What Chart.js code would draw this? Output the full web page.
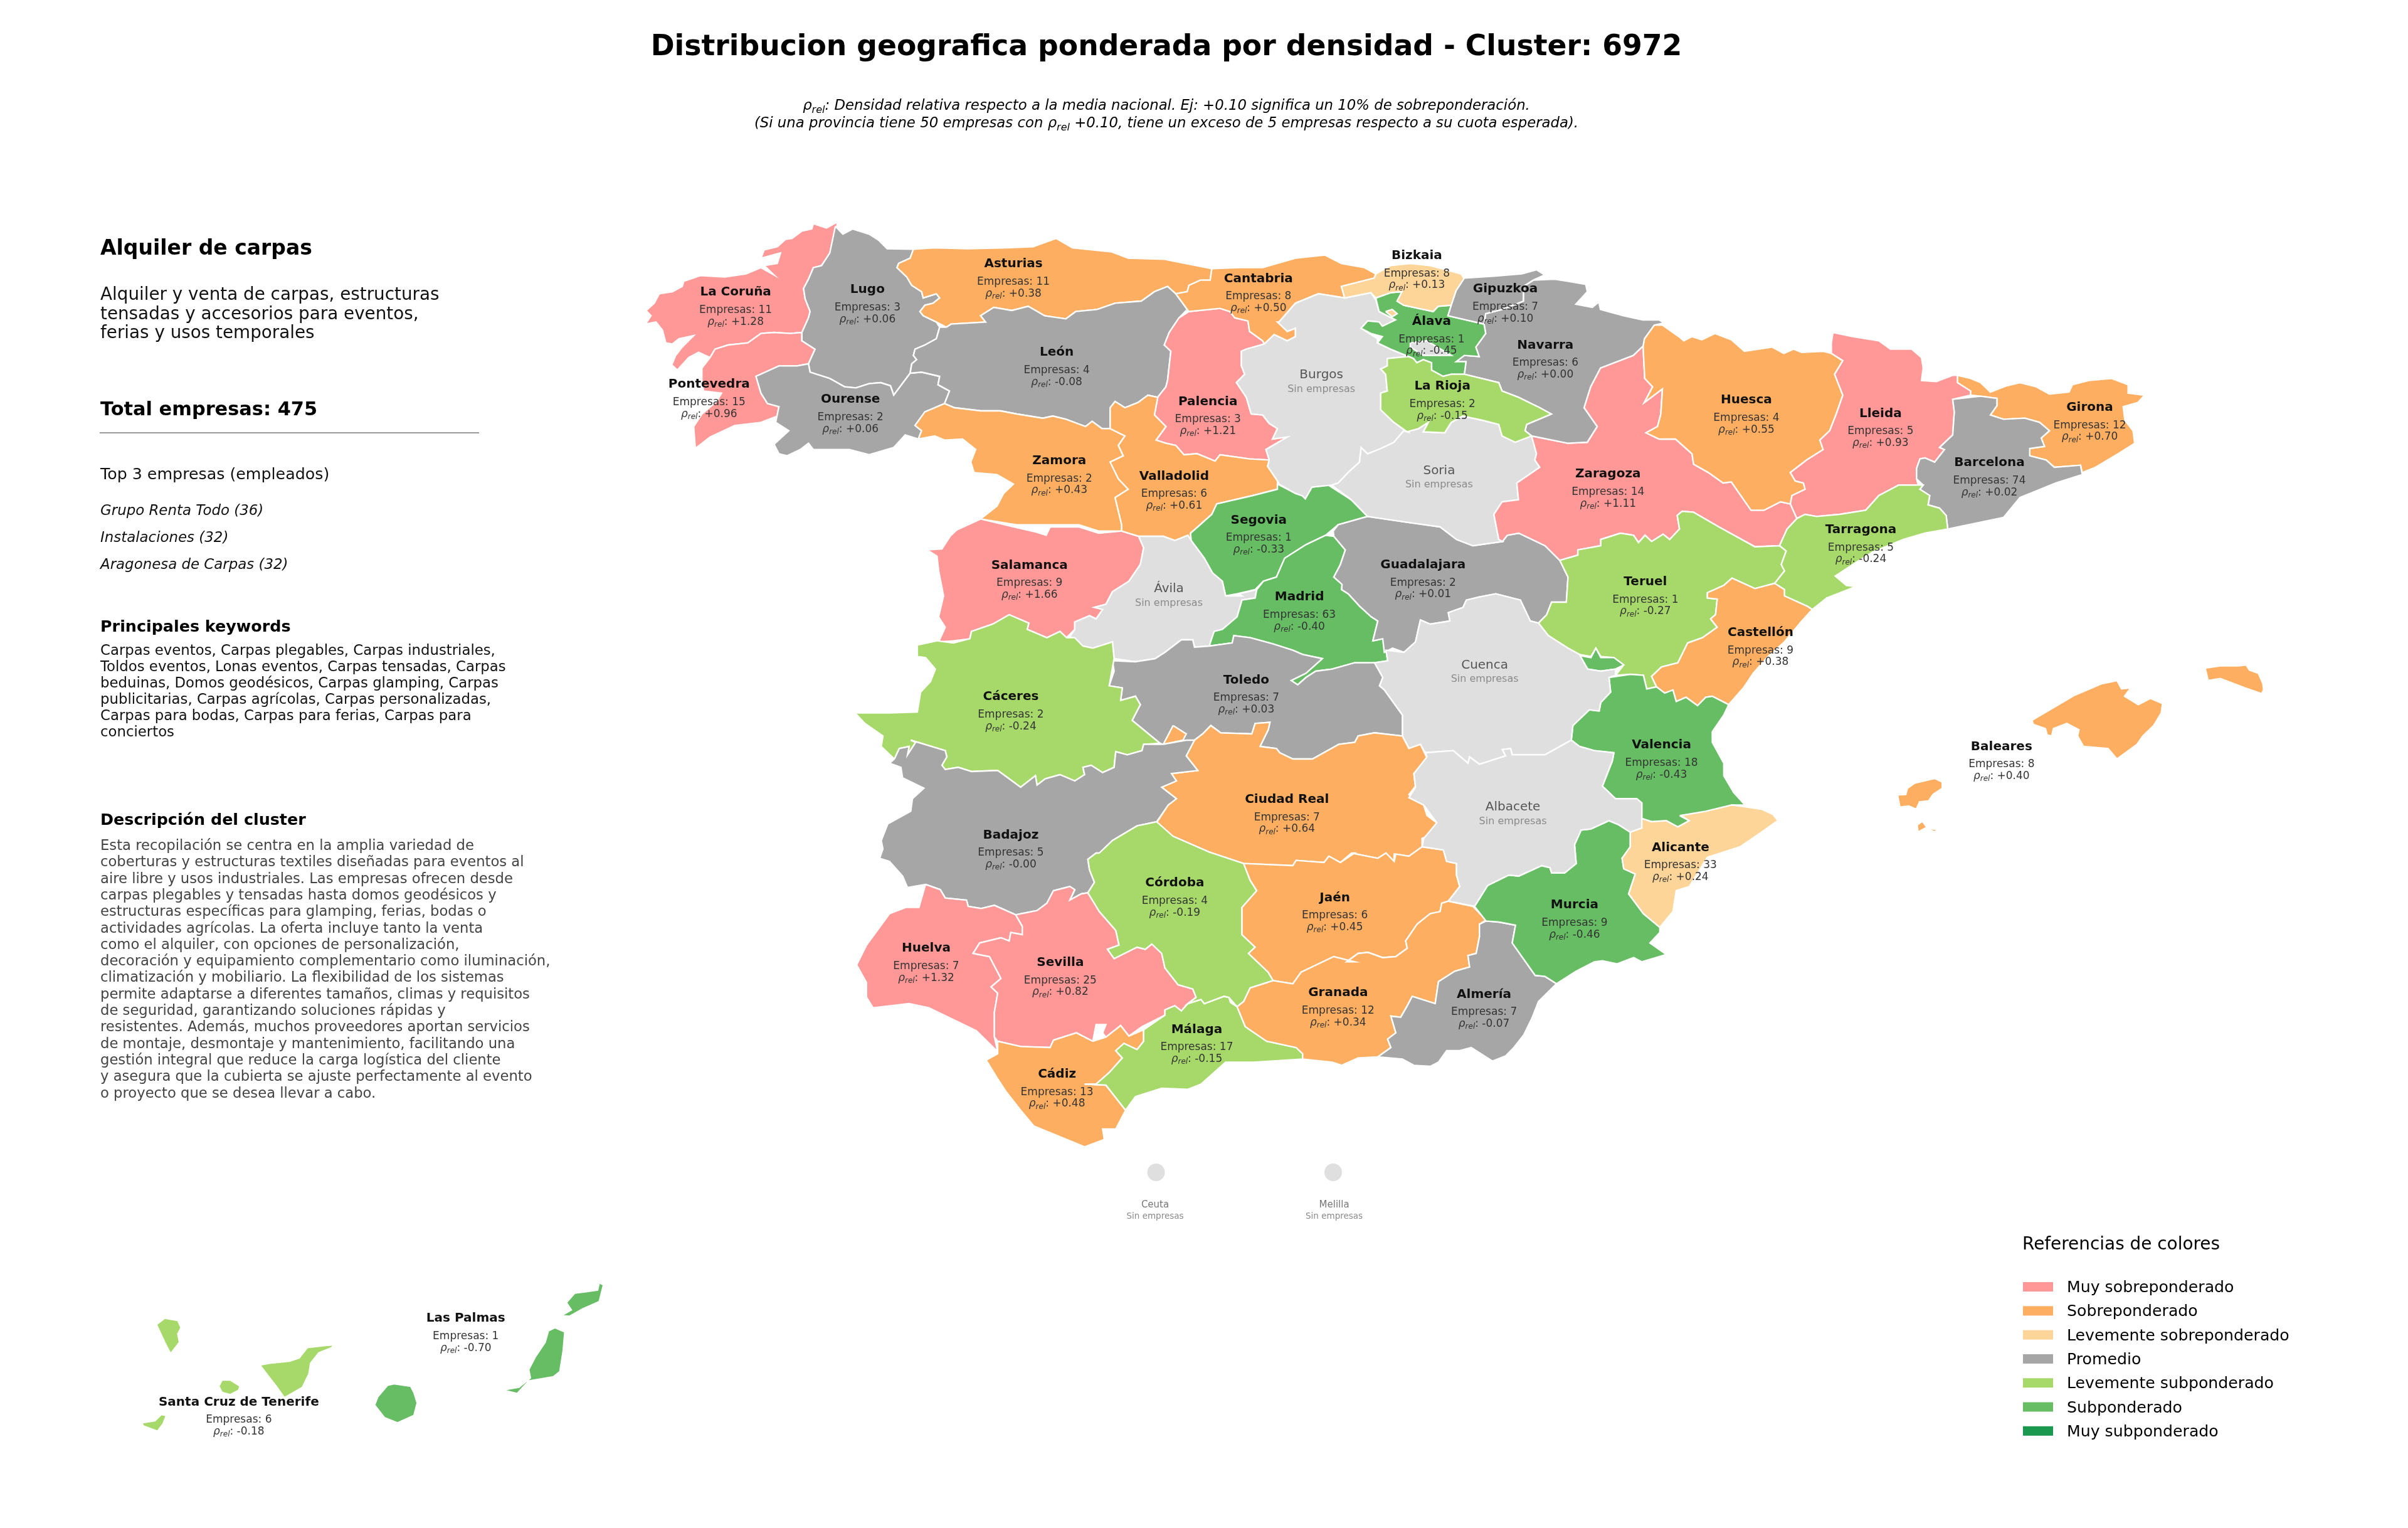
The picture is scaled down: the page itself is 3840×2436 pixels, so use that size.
<!DOCTYPE html>
<html>
<head>
<meta charset="utf-8">
<style>
html, body { margin: 0; padding: 0; background: #fff; }
#wrap { width: 3840px; height: 2436px; }
</style>
<script src="https://cdn.jsdelivr.net/npm/chart.js@4.4.0/dist/chart.umd.min.js"></script>
</head>
<body>
<div id="wrap"><canvas id="map" width="3840" height="2436"></canvas></div>
<script>
// --- Province data ---
const provinces = ['La Coruña','Lugo','Asturias','León','Pontevedra','Ourense','Zamora','Cantabria','Bizkaia','Gipuzkoa','Álava','Navarra','La Rioja','Burgos','Palencia','Soria','Zaragoza','Valladolid','Segovia','Huesca','Lleida','Girona','Barcelona','Tarragona','Salamanca','Ávila','Madrid','Cáceres','Toledo','Ciudad Real','Badajoz','Guadalajara','Teruel','Castellón','Cuenca','Valencia','Albacete','Alicante','Huelva','Sevilla','Córdoba','Jaén','Granada','Málaga','Cádiz','Almería','Murcia','Baleares','Las Palmas','Santa Cruz de Tenerife','Ceuta','Melilla'];
const empresas = [11,3,11,4,15,2,2,8,8,7,1,6,2,0,3,0,14,6,1,4,5,12,74,5,9,0,63,2,7,7,5,2,1,9,0,18,0,33,7,25,4,6,12,17,13,7,9,8,1,6,0,0];
const rhoText = ['+1.28','+0.06','+0.38','-0.08','+0.96','+0.06','+0.43','+0.50','+0.13','+0.10','-0.45','+0.00','-0.15',null,'+1.21',null,'+1.11','+0.61','-0.33','+0.55','+0.93','+0.70','+0.02','-0.24','+1.66',null,'-0.40','-0.24','+0.03','+0.64','-0.00','+0.01','-0.27','+0.38',null,'-0.43',null,'+0.24','+1.32','+0.82','-0.19','+0.45','+0.34','-0.15','+0.48','-0.07','-0.46','+0.40','-0.70','-0.18',null,null];
const labelU = [293,695,1140,1272,212,643,1280,1887,2370,2640,2415,2762,2448,2079,1733,2438,2953,1630,1888,3375,3784,4422,4116,3724,1189,1614,2012,1132,1850,1974,1132,2389,3067,3418,2577,3116,2663,3174,874,1283,1632,2120,2130,1699,1273,2575,2851,4153,-530,-1222,1572,2118];
const labelV = [372,360,237,660,813,885,1178,307,197,357,512,625,822,770,895,1228,1242,1252,1462,888,952,923,1188,1508,1678,1793,1830,2307,2227,2798,2968,1676,1757,2000,2157,2538,2837,3028,3510,3578,3198,3268,3723,3898,4112,3730,3303,2545,5280,5680,4734,4734];

const classLabels = ['Muy sobreponderado','Sobreponderado','Levemente sobreponderado','Promedio','Levemente subponderado','Subponderado','Muy subponderado'];
const classColors = ['#ff9896','#fdae61','#fed598','#a6a6a6','#a6d96a','#66bd63','#1a9850'];
const classFloors = [0.75,0.25,0.10001,-0.10,-0.30,-0.75,-99];
const noDataColor = '#dfdfdf';

const topEmpresas = ['Grupo Renta Todo (36)','Instalaciones (32)','Aragonesa de Carpas (32)'];
const headLines = ['Alquiler y venta de carpas, estructuras','tensadas y accesorios para eventos,','ferias y usos temporales'];
const keywordLines = ['Carpas eventos, Carpas plegables, Carpas industriales,','Toldos eventos, Lonas eventos, Carpas tensadas, Carpas','beduinas, Domos geodésicos, Carpas glamping, Carpas','publicitarias, Carpas agrícolas, Carpas personalizadas,','Carpas para bodas, Carpas para ferias, Carpas para','conciertos'];
const descLines = ['Esta recopilación se centra en la amplia variedad de','coberturas y estructuras textiles diseñadas para eventos al','aire libre y usos industriales. Las empresas ofrecen desde','carpas plegables y tensadas hasta domos geodésicos y','estructuras específicas para glamping, ferias, bodas o','actividades agrícolas. La oferta incluye tanto la venta','como el alquiler, con opciones de personalización,','decoración y equipamiento complementario como iluminación,','climatización y mobiliario. La flexibilidad de los sistemas','permite adaptarse a diferentes tamaños, climas y requisitos','de seguridad, garantizando soluciones rápidas y','resistentes. Además, muchos proveedores aportan servicios','de montaje, desmontaje y mantenimiento, facilitando una','gestión integral que reduce la carga logística del cliente','y asegura que la cubierta se ajuste perfectamente al evento','o proyecto que se desea llevar a cabo.'];

// Outlines were traced sheet by sheet, each sheet has its own origin in map units
const sheet = (ou, ov) => (...p) => p.map((n, i) => n + (i % 2 ? ov : ou));
const A = sheet(0, 0), B = sheet(1530, 0), C = sheet(3059, 0), D = sheet(612, 1500), E = sheet(2141, 1500), F = sheet(612, 3000), G = sheet(2141, 2700);

const coruna = A(603,42,570,70,530,50,525,75,495,85,465,120,445,125,420,160,380,175,370,215,430,190,420,240,380,250,410,295,370,260,325,290,260,305,185,298,135,325,130,350,100,375,60,385,45,430,20,465,35,490,18,530,50,520,70,560,80,620,100,625,120,600,165,585,130,640,110,680,98,725,115,750,150,690,180,665,215,690,230,650,270,630,330,620,370,575,410,570,460,575,495,570,515,500,520,470,505,410,500,360,515,315,530,260,555,250,580,190,600,95);
const pontevedra = A(495,570,495,610,535,650,515,720,480,730,425,730,355,780,370,860,390,910,425,925,420,970,370,1000,290,1015,215,1070,170,1125,165,1020,190,960,235,900,250,860,195,850,190,800,190,740,215,690,230,650,270,630,330,620,370,575,410,570,460,575);
const lugo = A(597,62,620,100,650,75,700,100,730,130,755,170,835,172,825,215,790,240,785,260,815,305,830,345,860,375,865,405,905,385,915,405,895,430,870,440,855,470,865,490,905,520,915,545,905,600,870,630,840,650,835,680,845,700,830,720,825,765,775,870,765,825,735,810,700,815,660,835,625,830,580,790,520,760,515,720,535,650,495,610,495,570,515,500,520,470,505,410,500,360,515,315,530,260,555,250,580,190);
const ourense = A(355,780,425,730,480,730,515,720,520,760,580,790,625,830,660,835,700,815,735,810,765,825,775,870,825,765,860,760,915,780,910,820,945,850,930,910,870,950,840,1015,860,1040,850,1080,810,1060,775,1120,700,1155,640,1130,530,1130,515,1100,490,1130,450,1160,425,1150,410,1105,455,1040,415,1000,425,925,390,910,370,860);
const asturias = A(835,172,900,165,1000,170,1120,165,1200,160,1270,120,1320,165,1440,185,1490,215,1600,220,1745,265,1740,320,1710,320,1675,345,1670,375,1635,385,1610,350,1570,375,1530,420,1450,430,1395,460,1330,470,1300,505,1235,490,1185,445,1135,465,1080,450,1040,490,1055,520,950,530,935,545,905,520,865,490,855,470,870,440,895,430,915,405,905,385,865,405,860,375,830,345,815,305,785,260,790,240,825,215);
const leon = A(935,545,950,530,1055,520,1040,490,1080,450,1135,465,1185,445,1235,490,1300,505,1330,470,1395,460,1450,430,1530,420,1570,375,1610,350,1635,385,1670,460,1645,500,1615,570,1600,630,1620,660,1610,800,1605,830,1580,880,1550,870,1520,905,1480,930,1450,900,1435,930,1435,1030,1410,1030,1380,995,1360,1020,1300,985,1260,970,1230,980,1150,960,1100,945,1040,945,960,930,930,910,945,850,910,820,915,780,860,760,825,765,830,720,845,700,835,680,840,650,870,630,905,600,915,545);
const zamora = A(930,910,960,930,1040,945,1100,945,1150,960,1230,980,1260,970,1300,985,1360,1020,1380,995,1410,1030,1435,1030,1480,1065,1460,1110,1475,1160,1435,1190,1460,1270,1490,1320,1450,1360,1470,1490,1470,1520,1450,1520,1400,1520,1340,1490,1240,1490,1150,1490,1040,1462,1090,1400,1110,1340,1140,1295,1090,1250,1020,1240,1010,1190,1025,1130,985,1080,930,1085,900,1065,850,1080,860,1040,840,1015,870,950);
const salamanca = A(1040,1462,1142,1500,1210,1525,1240,1540,1252,1500,1340,1500,1400,1530,1470,1520,1522,1545,1537,1600,1527,1680,1492,1760,1442,1810,1422,1870,1387,1885,1412,1895,1392,1940,1372,1925,1327,1955,1327,1990,1302,2030,1282,2000,1242,2030,1182,1990,1187,1960,1127,1920,1077,1965,1012,2000,1007,2035,957,2045,912,2050,932,1980,912,1930,927,1830,912,1710,907,1640,877,1610,922,1605,947,1545,967,1515);
const palencia = B(145,470,240,455,270,470,285,500,325,515,330,565,370,610,375,625,320,650,305,660,305,730,315,770,290,810,320,880,335,960,370,965,390,1005,415,1030,400,1080,445,1070,380,1130,390,1180,330,1175,240,1155,225,1185,170,1150,130,1155,105,1110,75,1100,45,1085,75,1020,40,965,50,880,75,830,80,800,90,660,70,630,85,570,115,500);
const valladolid = A(1435,930,1450,900,1480,930,1520,905,1550,870,1580,880,1570,965,1605,1020,1575,1085,1605,1100,1635,1110,1660,1155,1700,1150,1755,1185,1770,1155,1860,1175,1920,1180,1915,1210,1945,1280,1945,1320,1870,1350,1760,1390,1745,1440,1702,1500,1680,1530,1682,1565,1632,1565,1597,1545,1522,1545,1470,1520,1470,1490,1450,1360,1490,1320,1460,1270,1435,1190,1475,1160,1460,1110,1480,1065,1435,1030);
const segovia = A(1702,1500,1745,1440,1760,1390,1870,1350,1945,1320,1945,1295,2000,1340,2020,1350,2030,1365,2050,1310,2100,1300,2170,1370,2220,1450,2130,1490,2092,1540,2032,1585,1967,1650,1942,1740,1902,1760,1877,1800,1822,1820,1787,1830,1777,1760,1747,1720,1722,1650,1682,1565,1680,1530);
const avila = A(1522,1545,1597,1545,1632,1565,1672,1540,1682,1565,1722,1650,1747,1720,1777,1760,1787,1830,1837,1830,1827,1820,1882,1800,1877,1840,1837,1850,1822,1930,1777,1990,1752,2000,1737,2070,1692,2075,1687,2040,1652,2040,1602,2100,1572,2130,1512,2145,1447,2130,1442,2050,1382,2080,1352,2070,1312,2025,1327,1990,1327,1955,1372,1925,1392,1940,1412,1895,1387,1885,1422,1870,1442,1810,1492,1760,1527,1680,1537,1600);
const madrid = A(2092,1540,2117,1545,2152,1610,2137,1680,2117,1740,2142,1775,2141,1800,2161,1820,2196,1880,2231,1930,2251,1950,2236,2045,2266,2035,2276,2090,2281,2140,2241,2150,2180,2150,2112,2180,2062,2190,2032,2220,2007,2255,1987,2235,2032,2200,2082,2130,2022,2110,1992,2090,1932,2060,1862,2030,1812,2020,1807,2055,1737,2070,1752,2000,1777,1990,1822,1930,1837,1850,1877,1840,1882,1800,1902,1760,1942,1740,1967,1650,2032,1585);
const guadalajara = A(2115,1520,2130,1490,2220,1450,2350,1480,2395,1490,2441,1500,2491,1560,2541,1590,2631,1570,2646,1540,2681,1530,2761,1590,2806,1660,2831,1740,2826,1860,2781,1860,2766,1920,2741,1960,2716,1950,2686,1850,2611,1820,2561,1835,2521,1850,2511,1885,2466,1910,2471,1950,2411,1965,2381,1945,2366,2050,2331,2100,2296,2080,2271,2100,2266,2035,2236,2045,2251,1950,2231,1930,2196,1880,2161,1820,2141,1800,2142,1775,2117,1740,2137,1680,2152,1610,2117,1545);
const soria = A(2330,1040,2300,1095,2260,1125,2220,1150,2200,1120,2195,1190,2160,1240,2130,1290,2110,1300,2170,1370,2220,1450,2350,1480,2441,1500,2491,1560,2541,1590,2631,1570,2620,1560,2605,1440,2630,1380,2680,1370,2675,1290,2745,1215,2730,1180,2735,1150,2720,1065,2670,1095,2630,1065,2620,1010,2570,990,2510,970,2475,1000,2455,1050,2390,1045,2405,1000,2375,1030,2340,1045);
const zaragoza = A(2720,1065,2830,1100,2890,1095,2920,1020,2880,930,2900,830,2930,740,3030,680,3060,635,3062,700,3065,790,3089,830,3064,905,3119,840,3114,960,3104,1020,3069,1050,3109,1080,3159,1080,3209,1150,3214,1200,3259,1240,3304,1290,3329,1285,3389,1420,3429,1420,3479,1380,3509,1390,3529,1460,3499,1510,3476,1590,3401,1595,3291,1500,3214,1430,3179,1425,3164,1445,3171,1510,3141,1560,3121,1535,3086,1570,3066,1540,3046,1575,3031,1540,2991,1530,2931,1560,2931,1590,2861,1610,2861,1635,2806,1660,2761,1590,2681,1530,2646,1540,2631,1570,2620,1560,2605,1440,2630,1380,2680,1370,2675,1290,2745,1215,2730,1180,2735,1150);
const huesca = A(3119,535,3169,590,3184,610,3209,590,3239,605,3279,575,3329,605,3369,660,3454,640,3489,670,3519,650,3544,665,3609,660,3634,670,3669,705,3644,770,3664,850,3669,870,3649,960,3629,1040,3599,1085,3609,1130,3559,1180,3509,1240,3524,1280,3549,1290,3554,1320,3514,1350,3509,1390,3479,1380,3429,1420,3389,1420,3329,1285,3304,1290,3259,1240,3214,1200,3209,1150,3159,1080,3109,1080,3069,1050,3104,1020,3114,960,3119,840,3064,905,3089,830,3065,790,3062,700,3060,635,3064,600,3094,535);
const navarra = B(1165,350,1195,320,1260,315,1300,325,1355,340,1360,375,1325,435,1375,450,1395,425,1400,460,1470,490,1529,510,1579,510,1594,525,1564,535,1534,600,1530,635,1500,680,1400,740,1370,830,1350,930,1390,1020,1360,1095,1300,1100,1190,1065,1170,1040,1175,1010,1250,960,1215,930,1150,880,1100,850,1090,810,985,770,990,710,960,710,985,680,1030,685,1020,640,1050,575,1045,530,1050,480,1100,460,1165,420);
const larioja = B(750,695,815,685,830,695,840,715,860,700,885,715,885,750,920,780,945,770,985,770,1090,810,1100,850,1150,880,1215,930,1250,960,1175,1010,1170,1040,1190,1065,1140,1095,1100,1065,1090,1010,1040,990,980,970,945,1000,925,1050,860,1045,875,1000,845,1030,810,1045,770,1000,730,940,730,860,750,850,745,770,730,745,750,730);
const burgos = B(420,520,470,430,540,385,620,405,700,380,715,415,725,470,775,510,735,540,725,520,690,515,670,550,720,600,720,620,760,650,815,685,750,695,750,730,730,745,745,770,750,850,730,860,730,940,770,1000,810,1045,800,1040,770,1095,730,1125,690,1150,670,1120,665,1190,630,1240,600,1290,580,1300,520,1310,500,1365,490,1350,470,1340,420,1295,415,1280,385,1210,390,1180,380,1130,445,1070,400,1080,415,1030,390,1005,370,965,335,960,320,880,290,810,315,770,305,730,305,660,320,650,375,625,405,580,445,610,470,590,470,550,445,565,415,520);
const trevino = B(820,620,870,610,945,680,860,680,820,640);
const cantabria = B(215,265,300,260,370,260,470,215,560,200,610,240,680,260,715,290,710,310,610,350,620,405,540,385,470,430,420,520,445,565,470,550,470,590,445,610,405,580,375,625,370,610,330,565,325,515,285,500,270,470,240,455,145,470,140,460,105,385,140,375,145,345,180,320,210,320);
const bizkaia = B(610,350,710,310,715,290,760,250,820,240,880,250,975,290,985,315,960,370,945,440,905,445,890,470,800,440,780,420,795,375,760,380,715,405,700,380,620,405);
const bizkaiaEnclave = B(745,470,765,460,780,480,765,495);
const alava = B(715,405,760,380,795,375,780,420,800,440,890,470,905,445,945,440,935,490,1045,530,1050,575,1020,640,1030,685,985,680,960,710,990,710,985,770,945,770,920,780,885,750,885,715,860,700,840,715,830,695,815,685,760,650,720,620,735,590,700,575,670,550,690,515,725,520,735,540,775,510,725,470);
const gipuzkoa = B(985,310,1080,300,1160,290,1205,270,1230,295,1195,320,1165,350,1165,420,1100,460,1050,480,1045,530,935,490,945,440,960,370);
const lleida = C(580,570,640,590,720,610,755,650,820,650,850,690,855,740,850,800,895,805,945,775,960,775,960,810,1000,850,1000,870,945,890,950,950,945,1060,905,1120,920,1130,890,1190,860,1170,845,1175,835,1220,835,1270,840,1300,780,1300,720,1350,680,1420,600,1440,530,1450,495,1440,470,1460,450,1390,455,1350,495,1320,490,1290,465,1280,450,1240,500,1180,550,1130,540,1085,570,1040,590,960,610,870,605,850,585,770,610,705,575,670,575,620);
const girona = C(960,775,1000,790,1030,810,1060,855,1110,825,1150,810,1200,830,1240,865,1300,855,1310,820,1360,800,1430,790,1480,820,1480,860,1530,870,1510,905,1465,925,1470,990,1495,1040,1500,1100,1450,1150,1380,1215,1340,1240,1335,1205,1255,1215,1230,1180,1180,1160,1180,1125,1225,1115,1215,1075,1240,1040,1210,1000,1165,980,1100,985,1060,965,1080,920,1080,885,1030,875,1000,870,1000,850,960,810);
const barcelona = C(945,890,1030,875,1080,885,1080,920,1060,965,1100,985,1165,980,1210,1000,1240,1040,1215,1075,1225,1115,1180,1125,1180,1160,1230,1180,1255,1215,1335,1205,1340,1250,1260,1290,1150,1360,1100,1455,930,1510,925,1445,905,1410,870,1395,875,1350,845,1320,855,1300,835,1270,835,1220,845,1175,860,1170,890,1190,920,1130,905,1120,945,1060,950,950);
const tarragona = A(3529,1460,3554,1440,3589,1450,3659,1440,3739,1420,3779,1350,3839,1300,3899,1300,3914,1300,3904,1320,3934,1350,3929,1395,3964,1410,3984,1445,3989,1510,3919,1530,3854,1560,3760,1620,3709,1670,3646,1735,3680,1780,3709,1785,3620,1840,3576,1895,3561,1880,3491,1830,3491,1800,3461,1770,3491,1710,3481,1680,3496,1615,3476,1590,3499,1510);
const teruel = A(2806,1660,2861,1635,2861,1610,2931,1590,2931,1560,2991,1530,3031,1540,3046,1575,3066,1540,3086,1570,3121,1535,3141,1560,3171,1510,3164,1445,3179,1425,3214,1430,3291,1500,3401,1595,3476,1590,3496,1615,3481,1680,3491,1710,3461,1770,3401,1795,3331,1745,3306,1780,3256,1815,3256,1840,3286,1845,3281,1920,3266,1940,3286,1980,3241,2030,3196,2055,3166,2150,3116,2170,3086,2215,3101,2265,3071,2275,3061,2210,3021,2205,2976,2210,3001,2160,2971,2125,2931,2120,2916,2080,2901,2120,2866,2110,2831,2080,2771,2020,2741,1960,2766,1920,2781,1860,2826,1860,2831,1740);
const ademuz = E(725,615,760,625,775,580,790,625,830,625,860,660,835,680,790,690,750,680);
const castellon = E(1190,245,1260,295,1320,270,1350,300,1350,330,1420,380,1435,395,1400,455,1350,550,1300,620,1255,700,1225,770,1180,850,1130,810,1110,815,1085,855,1050,815,1020,835,1010,780,985,795,960,765,945,715,975,670,1025,650,1055,555,1100,530,1145,480,1125,440,1140,420,1145,345,1115,340,1115,315,1165,280);
const valencia = E(815,720,880,705,920,710,930,775,960,765,985,795,1010,780,1020,835,1050,815,1085,855,1110,815,1130,810,1180,850,1165,900,1130,980,1130,1030,1165,1130,1165,1190,1195,1270,1230,1330,1190,1330,1110,1365,1035,1385,1060,1405,1025,1435,990,1410,945,1410,915,1395,915,1320,900,1300,835,1300,795,1240,825,1120,830,1080,770,1070,725,1050,700,1020,705,950,755,875,785,880,790,840,820,790);
const cuenca = E(240,445,270,465,330,450,325,410,370,385,380,350,420,335,470,320,545,350,575,450,600,460,630,520,690,580,725,610,750,680,790,690,835,680,835,710,815,720,820,790,790,840,785,880,755,875,705,950,700,1020,620,1090,520,1090,515,1060,490,1065,500,1095,480,1105,420,1135,390,1100,385,1130,340,1070,255,1080,240,1040,205,1060,185,1000,185,900,130,780,115,760,125,720,100,650,140,640,135,590,190,600,225,550);
const toledo = A(1442,2140,1512,2145,1572,2130,1602,2100,1652,2040,1687,2040,1692,2075,1737,2070,1807,2055,1812,2020,1862,2030,1932,2060,1992,2090,2022,2110,2082,2130,2032,2200,1987,2235,2007,2255,2032,2220,2062,2190,2112,2180,2180,2150,2241,2150,2266,2220,2256,2260,2271,2280,2326,2400,2326,2500,2241,2485,2191,2500,2181,2530,2132,2540,2052,2610,1992,2610,1952,2580,1942,2560,1892,2550,1917,2470,1922,2435,1877,2440,1867,2490,1772,2485,1742,2450,1717,2490,1692,2520,1597,2540,1587,2535,1502,2425,1527,2350,1512,2310,1467,2330,1472,2270,1432,2260,1447,2190);
const tajo = D(1015,950,1055,990,1045,1020,985,1040);
const ciudadReal = A(1692,2520,1717,2490,1742,2450,1772,2485,1867,2490,1877,2440,1922,2435,1917,2470,1892,2550,1942,2560,1952,2580,1992,2610,2052,2610,2132,2540,2181,2530,2191,2500,2241,2485,2326,2500,2346,2560,2381,2540,2401,2605,2361,2680,2366,2740,2346,2780,2391,2830,2401,2880,2431,2915,2421,2970,2386,2990,2386,3030,2346,3075,2301,3065,2300,3100,2276,3060,2251,3085,2171,3060,2137,3105,2102,3075,2087,3105,2002,3095,1992,3120,1842,3110,1737,3055,1627,2980,1572,2925,1612,2830,1637,2800,1592,2745,1637,2715,1622,2680,1702,2665,1667,2595);
const badajoz = [...D(165,1110,180,1060,210,1050,205,1090,230,1030,215,1020,320,1070,325,1100,310,1140,320,1160,360,1150,400,1170,480,1165,550,1245,595,1190,600,1235,625,1205,670,1185,715,1215,745,1185,740,1150,765,1140,800,1175,835,1150,840,1075,875,1090,920,1070,925,1040,975,1040,985,1040,1055,1020,1080,1020,1055,1095,1090,1165,1010,1180,1025,1215,980,1245,1025,1300,1000,1330,965,1410,905,1430,830,1500,790,1560), ...F(780,60,755,90,760,140,775,200,755,250,735,255,700,285,715,235,700,220,650,240,630,300,600,335,535,355,470,310,430,325,390,315,385,285,320,275,305,235,260,210,205,225,190,170,150,100,120,85,130,40,125,0), ...D(145,1420,215,1360,220,1300,255,1250,190,1200,185,1150,150,1130)];
const caceres = D(45,890,150,890,235,885,245,790,275,740,290,680,260,625,235,620,235,565,295,545,345,555,395,535,400,500,465,465,515,420,575,460,570,490,630,530,670,500,690,530,715,530,740,570,770,580,830,550,835,630,820,760,860,770,855,830,900,810,915,850,890,925,975,1035,925,1040,920,1070,875,1090,840,1075,835,1150,800,1175,765,1140,740,1150,745,1185,715,1215,670,1185,625,1205,600,1235,595,1190,550,1245,480,1165,400,1170,360,1150,320,1160,310,1140,325,1100,320,1070,215,1020,230,1030,205,1090,210,1050,180,1060,165,1110,125,1050,130,1000,75,940);
const huelva = F(260,210,305,235,320,275,385,285,390,315,430,325,470,310,535,355,555,410,555,450,520,440,515,480,490,465,425,490,405,540,455,555,490,660,460,700,480,730,470,820,470,940,480,1010,415,910,270,800,210,780,100,800,80,750,80,680,50,595,80,500,150,350,200,320,240,320);
const sevilla = F(535,355,600,335,630,300,650,240,700,220,715,235,700,285,735,255,755,250,790,340,840,430,850,500,815,520,835,565,905,510,930,520,950,495,980,540,990,610,1030,690,1075,710,1085,750,1060,780,1040,815,1020,790,990,810,990,835,920,890,880,935,855,885,810,940,800,920,810,880,780,880,770,960,720,920,650,955,640,990,550,985,480,960,470,940,470,820,480,730,460,700,490,660,455,555,405,540,425,490,490,465,515,480,520,440,555,450,555,410);
const cadiz = F(480,960,550,985,640,990,650,955,720,920,770,960,810,940,855,885,880,935,925,905,925,960,905,1000,865,970,840,1005,860,1040,820,1110,780,1165,745,1165,810,1170,870,1290,840,1380,800,1380,805,1430,745,1465,660,1410,590,1365,550,1290,505,1200,480,1140,445,1050,480,1020);
const malaga = F(1060,780,1100,760,1110,780,1170,745,1185,750,1190,775,1210,795,1235,890,1300,960,1390,990,1410,1020,1410,1045,1260,1060,1175,1060,1100,1165,1060,1190,980,1185,900,1225,870,1290,810,1170,745,1165,780,1165,820,1110,860,1040,840,1005,865,970,905,1000,925,960,925,905,990,835,990,810,1020,790,1040,815);
const cordoba = [...D(790,1560,830,1500,905,1430,965,1410,1015,1480,1125,1555), ...F(1230,110,1250,190,1270,240,1225,320,1225,450,1265,510,1245,540,1305,630,1320,670,1250,705,1230,770,1210,795,1185,750,1170,745,1110,780,1100,760,1060,780,1085,750,1075,710,1030,690,990,610,980,540,950,495,930,520,905,510,835,565,815,520,850,500,840,430,790,340,755,250,775,200,760,140,755,90,780,60)];
const jaen = [...F(1230,110,1380,120,1390,95,1475,105,1490,75,1525,105,1568,60), ...G(30,360,110,385,135,360,160,400,165,365,205,375,245,330,310,345,320,400,350,410,350,465,360,520,325,590,305,600,300,640,270,650,230,700,195,780,200,815,165,855,125,860,80,835,50,840,15,880,0,875), ...F(1505,555,1405,630,1380,685,1320,670,1305,630,1245,540,1265,510,1225,450,1225,320,1270,240,1250,190)];
const granada = [...G(325,590,400,615,440,680,420,700,420,760,410,840,385,850,390,905,345,925,295,975,285,1080,245,1060,215,1045,200,1090,180,1145,150,1140,165,1220,140,1250,150,1290,110,1335,50,1340,0,1375), ...F(1500,1060,1410,1045,1410,1020,1390,990,1300,960,1235,890,1210,795,1230,770,1250,705,1320,670,1380,685,1405,630,1505,555,1568,580), ...G(15,880,50,840,80,835,125,860,165,855,200,815,195,780,230,700,270,650,300,640,305,600)];
const almeria = G(440,685,480,690,530,705,520,790,590,945,620,950,655,985,600,1070,580,1150,555,1230,525,1290,500,1330,460,1355,395,1290,360,1305,320,1305,295,1360,270,1380,220,1375,185,1345,110,1335,150,1290,140,1250,165,1220,150,1140,180,1145,200,1090,215,1045,245,1060,285,1080,295,975,345,925,390,905,385,850,410,840,420,760,420,700);
const murcia = G(405,615,445,515,510,465,540,470,610,420,635,430,640,455,680,455,715,410,710,320,730,250,760,245,815,205,845,225,880,260,880,330,855,385,860,435,895,460,875,555,920,650,970,715,970,740,940,790,990,845,915,880,890,860,840,890,795,875,770,880,715,925,655,985,620,950,590,945,520,790,530,705,480,690,440,685);
const alicante = G(880,260,915,240,905,190,945,210,990,205,1025,235,1060,205,1035,180,1110,160,1190,130,1235,140,1280,150,1315,175,1330,205,1280,260,1215,330,1115,380,1060,520,1020,540,1010,640,970,715,920,650,875,555,895,460,860,435,855,385,880,330);
const albacete = [...E(255,1080,340,1070,385,1130,390,1100,420,1135,480,1105,500,1095,490,1065,515,1060,520,1090,620,1090,700,1020,725,1050,770,1070,830,1080,825,1120,795,1240,835,1300,900,1300,915,1320,915,1395), ...G(915,240,880,260,845,225,815,205,760,245,730,250,710,320,715,410,680,455,640,455,635,430,610,420,540,470,510,465,445,515,405,615,325,590,360,520,350,465,350,410,320,400,310,345,245,330,250,290,290,215,250,130,205,95,225,45,220,-20,260,-100)];
const mallorca = [4246,2425,4338,2340,4376,2305,4459,2250,4505,2235,4519,2275,4547,2270,4528,2310,4570,2350,4607,2320,4644,2345,4640,2390,4617,2450,4584,2500,4566,2540,4505,2610,4478,2560,4403,2550,4385,2500,4389,2470,4352,2440,4311,2465,4306,2500,4292,2495,4287,2465,4250,2445];
const menorca = [4774,2175,4820,2165,4876,2165,4899,2160,4909,2185,4936,2200,4950,2250,4952,2280,4946,2298,4895,2270,4820,2225,4783,2235];
const ibiza = [3836,2782,3861,2780,3866,2750,3889,2725,3949,2703,3972,2720,3972,2750,3944,2780,3931,2810,3903,2815,3893,2850,3870,2835,3843,2840];
const formentera = [3896,2925,3912,2908,3926,2940,3963,2950,3949,2958,3921,2940,3898,2960];
const laPalma = [-1473,5315,-1448,5285,-1408,5295,-1398,5330,-1408,5360,-1403,5400,-1430,5455,-1448,5400];
const tenerife = [-1158,5508,-1128,5500,-1068,5490,-1038,5475,-1013,5425,-958,5415,-933,5412,-938,5425,-978,5450,-1003,5500,-1008,5550,-1028,5615,-1083,5665,-1108,5610,-1133,5560];
const gomera = [-1273,5580,-1248,5580,-1218,5610,-1223,5630,-1248,5650,-1273,5640,-1283,5610];
const hierro = [-1518,5785,-1478,5775,-1458,5745,-1443,5750,-1453,5790,-1470,5825,-1513,5800];
const granCanaria = [-768,5605,-748,5598,-698,5610,-688,5640,-678,5690,-688,5750,-738,5785,-778,5760,-808,5700,-798,5660];
const fuerteventura = [-278,5345,-258,5330,-228,5350,-233,5440,-243,5540,-263,5565,-338,5585,-373,5645,-418,5628,-368,5615,-333,5570,-338,5530,-318,5470,-288,5400];
const lanzarote = [-238,5272,-208,5245,-223,5210,-198,5165,-163,5158,-128,5150,-123,5115,-110,5125,-123,5205,-173,5240,-213,5275];
const graciosa = [-138,5105,-128,5090,-128,5100,-136,5108];

// painting order, later rings sit on top of earlier ones
const rings = [['La Coruña',coruna],['Pontevedra',pontevedra],['Lugo',lugo],['Ourense',ourense],['Asturias',asturias],['León',leon],['Zamora',zamora],['Salamanca',salamanca],['Palencia',palencia],['Valladolid',valladolid],['Segovia',segovia],['Ávila',avila],['Madrid',madrid],['Guadalajara',guadalajara],['Soria',soria],['Zaragoza',zaragoza],['Huesca',huesca],['Navarra',navarra],['Cantabria',cantabria],['Burgos',burgos],['Álava',alava],['Burgos',trevino],['Bizkaia',bizkaia],['Bizkaia',bizkaiaEnclave],['Gipuzkoa',gipuzkoa],['La Rioja',larioja],['Lleida',lleida],['Girona',girona],['Barcelona',barcelona],['Tarragona',tarragona],['Teruel',teruel],['Valencia',ademuz],['Castellón',castellon],['Valencia',valencia],['Cuenca',cuenca],['Toledo',toledo],['Ciudad Real',ciudadReal],['Ciudad Real',tajo],['Cáceres',caceres],['Badajoz',badajoz],['Huelva',huelva],['Sevilla',sevilla],['Cádiz',cadiz],['Málaga',malaga],['Córdoba',cordoba],['Jaén',jaen],['Granada',granada],['Almería',almeria],['Murcia',murcia],['Alicante',alicante],['Albacete',albacete],['Baleares',mallorca],['Baleares',menorca],['Baleares',ibiza],['Baleares',formentera],['Santa Cruz de Tenerife',laPalma],['Santa Cruz de Tenerife',tenerife],['Santa Cruz de Tenerife',gomera],['Santa Cruz de Tenerife',hierro],['Las Palmas',granCanaria],['Las Palmas',fuerteventura],['Las Palmas',lanzarote],['Las Palmas',graciosa]];

const cityU = [1575,2115];
const cityV = [4587,4587];

const FONT = '"DejaVu Sans"';

function colorFor(name) {
    const r = rhoText[provinces.indexOf(name)];
    if (r === null) return noDataColor;
    const v = parseFloat(r);
    return classColors[classFloors.findIndex(f => v >= f)];
}

function toPoints(flat) {
    const pts = [];
    for (let i = 0; i < flat.length; i += 2) pts.push({ x: flat[i], y: flat[i + 1] });
    pts.push({ x: flat[0], y: flat[1] });
    return pts;
}

const datasets = rings.map(([name, flat], i) => ({
    label: name,
    data: toPoints(flat),
    showLine: true,
    pointRadius: 0,
    borderColor: '#ffffff',
    borderWidth: 2.4,
    polygonFill: colorFor(name),
    order: rings.length - i
}));
datasets.push({
    label: 'Ceuta y Melilla',
    data: cityU.map((u, i) => ({ x: u, y: cityV[i] })),
    showLine: false,
    pointRadius: 14,
    pointBorderWidth: 0,
    pointBackgroundColor: noDataColor,
    order: 0
});

// Chart.js has no closed polygon fill for line sets, fill under the white outline
const polygonFill = {
    id: 'polygonFill',
    beforeDatasetDraw(chart, args) {
        const ds = chart.data.datasets[args.index];
        if (!ds.polygonFill) return;
        const pts = args.meta.data;
        const ctx = chart.ctx;
        ctx.save();
        ctx.beginPath();
        pts.forEach((p, i) => i ? ctx.lineTo(p.x, p.y) : ctx.moveTo(p.x, p.y));
        ctx.closePath();
        ctx.fillStyle = ds.polygonFill;
        ctx.fill();
        ctx.restore();
    }
};

// draws runs of differently styled text as one centred or left aligned line
function drawRuns(ctx, runs, x, y, align, color) {
    let w = 0;
    runs.forEach(r => { ctx.font = r.font; w += ctx.measureText(r.text).width; });
    let cx = align === 'center' ? x - w / 2 : x;
    ctx.textAlign = 'left';
    ctx.textBaseline = 'alphabetic';
    ctx.fillStyle = color;
    runs.forEach(r => {
        ctx.font = r.font;
        ctx.fillText(r.text, cx, y + (r.dy || 0));
        cx += ctx.measureText(r.text).width;
    });
}

function put(ctx, text, x, y, font, color, align) {
    ctx.font = font;
    ctx.fillStyle = color;
    ctx.textAlign = align || 'left';
    ctx.textBaseline = 'alphabetic';
    ctx.fillText(text, x, y);
}

const rhoRuns = (size, rest, italicRest) => [
    { text: 'ρ', font: `italic ${size}px ${FONT}` },
    { text: 'rel', font: `italic ${Math.round(size * 0.7)}px ${FONT}`, dy: size * 0.2 },
    { text: rest, font: `${italicRest ? 'italic ' : ''}${size}px ${FONT}` }
];

const textLayer = {
    id: 'textLayer',
    afterDraw(chart) {
        const ctx = chart.ctx;
        const xs = chart.scales.x, ys = chart.scales.y;
        ctx.save();

        // province labels
        provinces.forEach((name, i) => {
            const cx = xs.getPixelForValue(labelU[i]);
            const cy = ys.getPixelForValue(labelV[i]);
            if (rhoText[i] === null) {
                const small = name === 'Ceuta' || name === 'Melilla';
                put(ctx, name, cx, cy + 6.7, `${small ? 15 : 20}px ${FONT}`, small ? '#777777' : '#555555', 'center');
                put(ctx, 'Sin empresas', cx, cy + (small ? 25 : 28), `${small ? 13.5 : 16}px ${FONT}`, '#8a8a8a', 'center');
                return;
            }
            put(ctx, name, cx, cy + 7.3, `bold 20px ${FONT}`, '#111111', 'center');
            put(ctx, `Empresas: ${empresas[i]}`, cx, cy + 35, `17px ${FONT}`, '#333333', 'center');
            drawRuns(ctx, rhoRuns(17, `: ${rhoText[i]}`), cx, cy + 53.5, 'center', '#333333');
        });

        // title block
        put(ctx, 'Distribucion geografica ponderada por densidad - Cluster: 6972', 1860, 88, `bold 45.7px ${FONT}`, '#000000', 'center');
        drawRuns(ctx, rhoRuns(22.8, ': Densidad relativa respecto a la media nacional. Ej: +0.10 significa un 10% de sobreponderación.', true), 1860, 175, 'center', '#000000');
        drawRuns(ctx, [
            { text: '(Si una provincia tiene 50 empresas con ', font: `italic 22.8px ${FONT}` },
            ...rhoRuns(22.8, ' +0.10, tiene un exceso de 5 empresas respecto a su cuota esperada).', true)
        ], 1860, 203, 'center', '#000000');

        // left column
        put(ctx, 'Alquiler de carpas', 160, 406, `bold 33px ${FONT}`, '#000000');
        headLines.forEach((t, i) => put(ctx, t, 160, 478 + i * 30.5, `27.8px ${FONT}`, '#111111'));
        put(ctx, 'Total empresas: 475', 160, 662, `bold 30.4px ${FONT}`, '#000000');
        ctx.strokeStyle = '#999999';
        ctx.lineWidth = 2;
        ctx.beginPath();
        ctx.moveTo(159, 690);
        ctx.lineTo(764, 690);
        ctx.stroke();
        put(ctx, 'Top 3 empresas (empleados)', 160, 764, `25.3px ${FONT}`, '#111111');
        const topY = [821, 864, 907];
        topEmpresas.forEach((t, i) => put(ctx, t, 160, topY[i], `italic 22.9px ${FONT}`, '#111111'));
        put(ctx, 'Principales keywords', 160, 1007, `bold 25.4px ${FONT}`, '#000000');
        keywordLines.forEach((t, i) => put(ctx, t, 160, 1044 + i * 26, `22.8px ${FONT}`, '#111111'));
        put(ctx, 'Descripción del cluster', 160, 1315, `bold 25.4px ${FONT}`, '#000000');
        descLines.forEach((t, i) => put(ctx, t, 160, 1355 + i * 26.3, `22.7px ${FONT}`, '#444444'));

        // legend
        put(ctx, 'Referencias de colores', 3225, 1992, `27.9px ${FONT}`, '#000000');
        classLabels.forEach((t, i) => {
            const y = 2044 + i * 38.3;
            ctx.fillStyle = classColors[i];
            ctx.fillRect(3226, y, 48, 15);
            put(ctx, t, 3296, y + 16, `25.2px ${FONT}`, '#000000');
        });
        ctx.restore();
    }
};

new Chart(document.getElementById('map'), {
    type: 'scatter',
    data: { datasets },
    plugins: [polygonFill, textLayer],
    options: {
        responsive: false,
        devicePixelRatio: 1,
        animation: false,
        layout: { padding: 0, autoPadding: false },
        plugins: { legend: { display: false }, tooltip: { enabled: false } },
        scales: {
            x: { display: false, min: -1950.2, max: 5392.4 },
            y: { display: false, reverse: true, min: -1020, max: 6288 }
        }
    }
});
</script>
</body>
</html>
